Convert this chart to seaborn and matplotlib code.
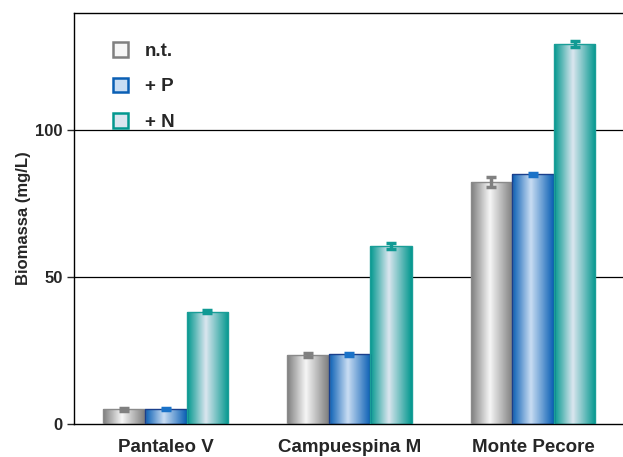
import numpy as np
import pandas as pd
import matplotlib
matplotlib.use("Agg")
import matplotlib.pyplot as plt
import seaborn as sns
from matplotlib.colors import LinearSegmentedColormap
from matplotlib.patches import Patch

# data
sites = ["Pantaleo V", "Campuespina M", "Monte Pecore"]
treatments = ["n.t.", "+ P", "+ N"]
nt_vals = [5.0, 23.5, 82.5]
p_vals = [5.2, 23.7, 85.0]
n_vals = [38.3, 60.5, 129.3]
nt_err = [0.6, 0.6, 1.8]
p_err = [0.4, 0.4, 0.5]
n_err = [0.4, 1.0, 1.0]

df = pd.DataFrame({
    "site": sites * 3,
    "treatment": [t for t in treatments for _ in sites],
    "biomass": nt_vals + p_vals + n_vals,
    "err": nt_err + p_err + n_err,
})

sns.set_style("white")
plt.rcParams["font.family"] = ["Liberation Sans", "DejaVu Sans"]

# colours: (edge dark, centre light, outline, errorbar)
styles = {
    "n.t.": ("#7f7f7f", "#f6f6f6", "#8a8a8a", "#808080"),
    "+ P": ("#0a5fb4", "#c9ddf3", "#1a3f8c", "#1a72c8"),
    "+ N": ("#03988f", "#dbe6ef", "#1a9e98", "#109a94"),
}

fig = plt.figure(figsize=(6.23, 4.57), dpi=100)
ax = fig.add_axes([0.1188, 0.0722, 0.8812, 0.8994])

sns.barplot(data=df, x="site", y="biomass", hue="treatment", order=sites,
            hue_order=treatments, width=0.68, errorbar=None, ax=ax,
            legend=False)

n_sites = len(sites)
for i, t in enumerate(treatments):
    dark, light, edge, ecol = styles[t]
    cmap = LinearSegmentedColormap.from_list(
        t, [(0, dark), (0.45, light), (1, dark)])
    grad = np.linspace(0, 1, 64).reshape(1, -1)
    sub = df[df["treatment"] == t]
    for j in range(n_sites):
        bar = ax.patches[i * n_sites + j]
        x0, y0 = bar.get_x(), bar.get_y()
        w, h = bar.get_width(), bar.get_height()
        im = ax.imshow(grad, cmap=cmap, aspect="auto",
                       extent=[x0, x0 + w, y0, y0 + h], zorder=2)
        im.set_clip_path(bar)
        bar.set_facecolor("none")
        bar.set_edgecolor(edge)
        bar.set_linewidth(1.0)
        bar.set_zorder(3)
        ax.errorbar(x0 + w / 2, sub["biomass"].iloc[j], yerr=sub["err"].iloc[j],
                    fmt="none", ecolor=ecol, elinewidth=2.5, capsize=3.5,
                    capthick=2.5, zorder=4)

ax.set_xlim(-0.5, 2.49)
ax.set_ylim(0, 140)
ax.set_yticks([0, 50, 100])
for yv in [50, 100]:
    ax.axhline(yv, color="black", lw=0.9, zorder=1)

ax.spines["right"].set_visible(False)
for s in ["left", "top", "bottom"]:
    ax.spines[s].set_color("black")
    ax.spines[s].set_linewidth(1.0)
ax.tick_params(axis="y", left=True, length=5, width=1, direction="out",
               labelsize=12, pad=3)
ax.tick_params(axis="x", bottom=False, labelsize=13.5, pad=7)
for lab in ax.get_xticklabels() + ax.get_yticklabels():
    lab.set_fontweight("bold")

ax.set_xlabel("")
ax.set_ylabel("Biomassa (mg/L)", fontsize=12, fontweight="bold", labelpad=3)

handles = [Patch(facecolor=styles[t][1], edgecolor=styles[t][0], linewidth=1.8)
           for t in treatments]
ax.legend(handles, treatments, loc="upper left", bbox_to_anchor=(0.04, 0.97),
          frameon=False, handlelength=0.8, handleheight=0.8, labelspacing=0.95,
          handletextpad=0.9, prop={"weight": "bold", "size": 13.5})

fig.savefig("out.png", dpi=100)
